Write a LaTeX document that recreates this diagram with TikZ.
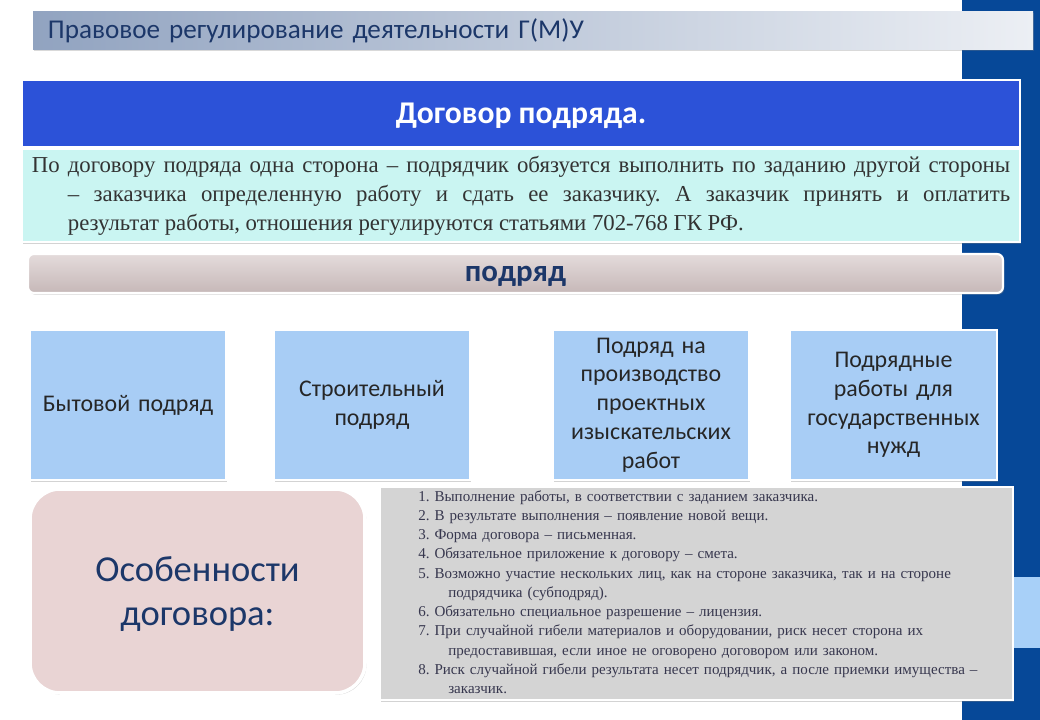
\documentclass[tikz,border=0pt]{standalone}
\usepackage{fontspec}
\setmainfont{Carlito}
\newfontfamily\serifru{Liberation Serif}
\usetikzlibrary{shadows,positioning}
\frenchspacing
\definecolor{stripblue}{RGB}{6,72,152}
\definecolor{bandblue}{RGB}{168,208,248}
\definecolor{inkblue}{RGB}{28,55,105}
\definecolor{titleleft}{RGB}{145,163,192}
\definecolor{titleright}{RGB}{236,239,244}
\definecolor{headblue}{RGB}{44,82,216}
\definecolor{defcyan}{RGB}{202,245,242}
\definecolor{bartop}{RGB}{228,219,219}
\definecolor{barbottom}{RGB}{198,184,184}
\definecolor{kindblue}{RGB}{168,205,245}
\definecolor{featpink}{RGB}{233,212,212}
\definecolor{listgrey}{RGB}{212,212,212}
\definecolor{listink}{RGB}{55,55,78}
\newcommand{\pxu}{0.025cm}
\newcommand{\hang}[1]{\hspace*{#1}}
\tikzstyle{panel}=[draw=white, line width=1.5pt, inner sep=0pt, drop shadow={opacity=0.35, shadow xshift=1pt, shadow yshift=-1.2pt}]
\tikzstyle{titlebar}=[inner sep=0pt, left color=titleleft, right color=titleright, minimum width=1000*\pxu, minimum height=38*\pxu, text width=24.25cm, align=left, text=inkblue, font=\fontsize{19.3}{22}\selectfont, drop shadow={opacity=0.3, shadow xshift=1pt, shadow yshift=-1pt}]
\tikzstyle{header}=[panel, fill=headblue, minimum width=998*\pxu, minimum height=67*\pxu, text=white, text depth=0pt, font=\bfseries\fontsize{22.5}{26}\selectfont]
\tikzstyle{defbox}=[panel, fill=defcyan, minimum width=998*\pxu, minimum height=93*\pxu, text width=24.45cm, align=justify, text=black!80, font=\serifru\fontsize{16.2}{20.5}\selectfont]
\tikzstyle{kindbar}=[panel, rounded corners=0.15cm, top color=bartop, bottom color=barbottom, minimum width=975*\pxu, minimum height=39*\pxu, text=inkblue, text depth=0pt, font=\bfseries\fontsize{22}{26}\selectfont]
\tikzstyle{kind}=[panel, fill=kindblue, minimum width=196*\pxu, minimum height=150*\pxu, text width=4.75cm, align=center, text=black!85, font=\fontsize{17}{20.5}\selectfont]
\tikzstyle{feature}=[panel, line width=2.5pt, rounded corners=0.75cm, fill=featpink, minimum width=335*\pxu, minimum height=204*\pxu, align=center, text=inkblue, text depth=0pt, font=\fontsize{26}{31}\selectfont]
\tikzstyle{listbox}=[panel, fill=listgrey, minimum width=633*\pxu, minimum height=213*\pxu]
\tikzstyle{listtext}=[inner sep=0pt, text width=14.5cm, align=left, text=listink, font=\serifru\fontsize{10.7}{13.7}\selectfont]

\begin{document}
\begin{tikzpicture}[x=\pxu, y=-\pxu]
\useasboundingbox (0,0) rectangle (1040,720);
% right strip
\fill[stripblue] (962,0) rectangle (1040,720);
\fill[bandblue] (962,577) rectangle (1040,648);
% title
\node[titlebar] at (533,31) (title) {Правовое регулирование деятельности Г(М)У};
% contract definition
\node[header] at (521,113.5) (contract) {Договор подряда.};
\node[defbox, below=0pt of contract] (definition) {\noindent По договору подряда одна сторона – подрядчик обязуется выполнить по заданию другой стороны\linebreak
\hang{0.9cm}– заказчика определенную работу и сдать ее заказчику. А заказчик принять и оплатить\linebreak
\hang{0.9cm}результат работы, отношения регулируются статьями 702-768 ГК РФ.};
% kinds
\node[kindbar] at (515.5,273.5) (podryad) {подряд};
\node[kind] at (128,405) (household) {Бытовой подряд};
\node[kind] at (372,405) (building) {Строительный\\ подряд};
\node[kind] at (651,405) (design) {Подряд на\\ производство\\ проектных\\ изыскательских\\ работ};
\node[kind, minimum width=207*\pxu] at (893.5,405) (state) {Подрядные\\ работы для\\ государственных\\ нужд};
% features
\node[feature] at (197.5,591) (features) {Особенности\\ договора:};
\node[listbox] at (696.5,593.5) (listpanel) {};
\node[listtext, anchor=north west] at (418,490) (items) {%
1. Выполнение работы, в соответствии с заданием заказчика.\\
2. В результате выполнения – появление новой вещи.\\
3. Форма договора – письменная.\\
4. Обязательное приложение к договору – смета.\\
5. Возможно участие нескольких лиц, как на стороне заказчика, так и на стороне\\
\hang{0.75cm}подрядчика (субподряд).\\
6. Обязательно специальное разрешение – лицензия.\\
7. При случайной гибели материалов и оборудовании, риск несет сторона их\\
\hang{0.75cm}предоставившая, если иное не оговорено договором или законом.\\
8. Риск случайной гибели результата несет подрядчик, а после приемки имущества –\\
\hang{0.75cm}заказчик.};
\end{tikzpicture}
\end{document}
